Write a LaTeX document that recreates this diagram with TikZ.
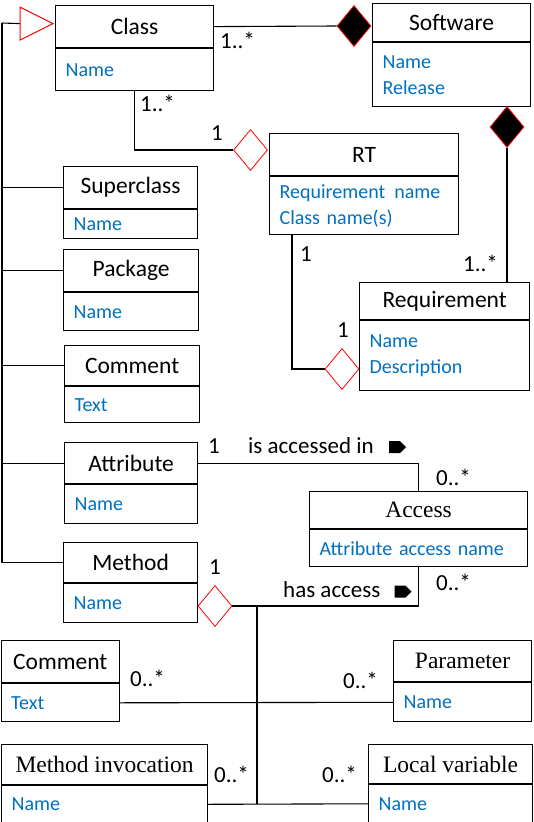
\documentclass[tikz,border=0pt]{standalone}
\usepackage{fontspec}
\setmainfont{Carlito}
\newfontfamily\timesface{Liberation Serif}
\usetikzlibrary{shapes.geometric,shapes.symbols,calc}
\definecolor{attrblue}{HTML}{0070C0}
\newcommand{\titlefnt}{\fontsize{23.5}{28}\selectfont}
\newcommand{\bodyfnt}{\fontsize{20}{26}\selectfont}
\newcommand{\lblfnt}{\fontsize{23}{28}\selectfont}
\newcommand{\serfnt}{\fontsize{23.5}{28}\selectfont\timesface}
\tikzset{
  titlebox/.style={draw, line width=1.2pt, inner sep=0pt, anchor=north west, font=\titlefnt},
  sertitle/.style={titlebox, font=\serfnt},
  bodybox/.style={draw, line width=1.2pt, inner xsep=10pt, inner ysep=0pt, anchor=north west, align=left, font=\bodyfnt, text=attrblue},
  conn/.style={line width=1.1pt},
  trunk/.style={line width=2pt},
  lbl/.style={inner sep=0pt, anchor=west, font=\lblfnt},
  fdiam/.style={diamond, draw=red, fill=black, inner sep=0pt, minimum width=34pt, minimum height=41pt, line width=0.8pt},
  odiam/.style={diamond, draw=red, fill=white, inner sep=0pt, minimum width=34pt, minimum height=41pt, line width=0.8pt},
  dirmark/.style={signal, signal to=east, fill=black, inner sep=0pt, minimum width=17pt, minimum height=12pt}
}
\begin{document}
\begin{tikzpicture}[x=1pt,y=-1pt]
\useasboundingbox (0,0) rectangle (534,822);

% Class
\node[titlebox, minimum width=158pt, minimum height=42pt] (classt) at (55,5) {Class};
\node[bodybox, text width=138pt, minimum height=42pt] (classb) at (classt.south west) {Name};
% Software
\node[titlebox, minimum width=158pt, minimum height=38pt] (softt) at (372,3) {Software};
\node[bodybox, text width=138pt, minimum height=64pt] (softb) at (softt.south west) {Name\\Release};
% RT
\node[titlebox, minimum width=189pt, minimum height=42pt] (rtt) at (269,133) {RT};
\node[bodybox, text width=169pt, minimum height=58pt] (rtb) at (rtt.south west) {Requirement\hspace{9pt}name\\Class name(s)};
% Requirement
\node[titlebox, minimum width=170pt, minimum height=37pt] (reqt) at (359,282) {Requirement};
\node[bodybox, text width=150pt, minimum height=70pt] (reqb) at (reqt.south west) {Name\\Description};
% Superclass
\node[titlebox, minimum width=134pt, minimum height=42pt] (supt) at (63,166) {Superclass};
\node[bodybox, text width=114pt, minimum height=29pt] (supb) at (supt.south west) {Name};
% Package
\node[titlebox, minimum width=135pt, minimum height=42pt] (pact) at (63,249) {Package};
\node[bodybox, text width=115pt, minimum height=38pt] (pacb) at (pact.south west) {Name};
% Comment
\node[titlebox, minimum width=135pt, minimum height=40pt] (comt) at (64,345) {Comment};
\node[bodybox, text width=115pt, minimum height=36pt] (comb) at (comt.south west) {Text};
% Attribute
\node[titlebox, minimum width=133pt, minimum height=41pt] (attt) at (64,442) {Attribute};
\node[bodybox, text width=113pt, minimum height=39pt] (attb) at (attt.south west) {Name};
% Method
\node[titlebox, minimum width=134pt, minimum height=40pt] (metht) at (63,542) {Method};
\node[bodybox, text width=114pt, minimum height=39pt] (methb) at (metht.south west) {Name};
% Access
\node[sertitle, minimum width=218pt, minimum height=37pt] (acct) at (309,491) {Access};
\node[bodybox, text width=198pt, minimum height=37pt] (accb) at (acct.south west) {Attribute access name};
% Comment (bottom)
\node[titlebox, minimum width=118pt, minimum height=42pt] (com2t) at (0.6,640) {Comment};
\node[bodybox, text width=98pt, minimum height=38pt] (com2b) at (com2t.south west) {Text};
% Parameter
\node[sertitle, minimum width=138pt, minimum height=41pt] (part) at (393,640) {Parameter};
\node[bodybox, text width=118pt, minimum height=39pt] (parb) at (part.south west) {Name};
% Method invocation
\node[sertitle, minimum width=206pt, minimum height=40pt] (mit) at (1,744) {Method invocation};
\node[bodybox, text width=186pt, minimum height=37pt] (mib) at (mit.south west) {Name};
% Local variable
\node[sertitle, minimum width=164pt, minimum height=39pt] (lvt) at (368,744) {Local variable};
\node[bodybox, text width=144pt, minimum height=38pt] (lvb) at (lvt.south west) {Name};

% Diamonds
\node[fdiam] (d1) at (354,26) {};
\node[fdiam] (d2) at (507,127) {};
\node[odiam] (d3) at (250.5,150) {};
\node[odiam] (d4) at (342,369) {};
\node[odiam] (d5) at (215,606) {};

% Generalization trunk
\coordinate (trunktop) at (2,23);
\coordinate (gentip) at ($(classt.west)+(-2,-3)$);
\draw[trunk] (trunktop) -- (trunktop |- metht.west);
\draw[conn] (trunktop) -- ($(gentip)+(-33,0)$);
\draw[red, fill=white, line width=1pt] (gentip) -- ++(-33,-16.5) -- ++(0,33) -- cycle;
\foreach \n in {supt,pact,comt,attt,metht}
  \draw[conn] (trunktop |- \n.west) -- (\n.west);

% Class - Software
\draw[conn] (classt.east) -- (d1.west);
% Software - Requirement
\draw[conn] (d2.south) -- (d2.south |- reqt.north);
% Class - RT
\draw[conn] (classb.south) |- (d3.west);
% RT - Requirement
\draw[conn] ([xshift=23pt]rtb.south west) |- (d4.west);
% Attribute - Access
\draw[conn] (attt.east) -| (acct.north);
% Method - Access
\draw[conn] (d5.east) -| (accb.south);
% Method subtree
\coordinate (j1) at (257,606);
\draw[trunk] (j1) -- (j1 |- mib.east);
\draw[conn] (com2b.east) -- (parb.west);
\draw[conn] (mib.east) -- (lvb.west);

% Labels
\node[lbl] (m1) at (220,40) {1..*};
\node[lbl] (m2) at (140,103) {1..*};
\node[lbl] (m3) at (211,133) {1};
\node[lbl] (m4) at (463,263) {1..*};
\node[lbl] (m5) at (300,254) {1};
\node[lbl] (m6) at (337,330) {1};
\node[lbl] (m7) at (208,446) {1};
\node[lbl] (r1) at (248,446) {is accessed in};
\node[dirmark] (s1) at (394.5,447) {};
\node[lbl] (m8) at (436,477) {0..*};
\node[lbl] (m9) at (209,567) {1};
\node[lbl] (r2) at (283,590) {has access};
\node[dirmark] (s2) at (400,591.5) {};
\node[lbl] (m10) at (436,582) {0..*};
\node[lbl] (m11) at (130,678) {0..*};
\node[lbl] (m12) at (343,680) {0..*};
\node[lbl] (m13) at (214,774) {0..*};
\node[lbl] (m14) at (322,774) {0..*};
\end{tikzpicture}
\end{document}
